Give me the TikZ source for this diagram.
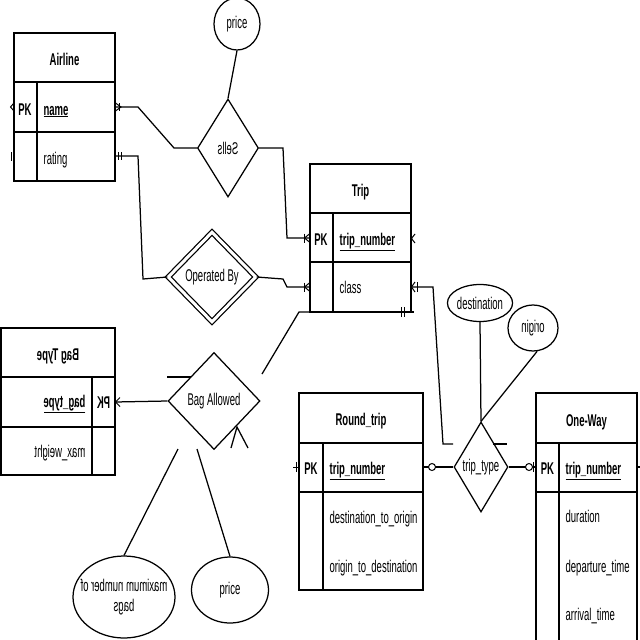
\documentclass[tikz,border=0pt]{standalone}
\usepackage{fontspec}
\usepackage{graphicx}
\setmainfont{Liberation Sans}[FakeStretch=0.56]
\usetikzlibrary{shapes.geometric,calc}
\begin{document}
\begin{tikzpicture}[x=1pt,y=-1pt,line width=1.25pt,
  txt/.style={inner sep=0pt,anchor=base,font=\fontsize{17}{20}\selectfont},
  ttl/.style={inner sep=0pt,anchor=base,font=\fontsize{17}{20}\selectfont\bfseries},
  rel/.style={diamond,draw,inner sep=0pt,font=\fontsize{17}{20}\selectfont},
  attr/.style={ellipse,draw,inner sep=0pt,font=\fontsize{17}{20}\selectfont},
  tick/.style={line width=1pt}]
\fill[white] (0,0) rectangle (640,640);
\useasboundingbox (0,0) rectangle (640,640);

% ---------- Airline ----------
\draw (14,33) rectangle (115,181);
\draw (14,82) -- (115,82);
\draw (14,132) -- (115,132);
\draw (37,82) -- (37,181);
\node[ttl] (airT) at (64.5,65) {Airline};
\node[ttl] (airPK) at (25,115) {PK};
\node[ttl,anchor=base west] (airName) at (43,115) {\underline{name}};
\node[txt,anchor=base west] (airRating) at (43,164) {rating};
\coordinate (airNameR) at (115,107);
\coordinate (airRatR) at (115,156);
\draw[tick] (14,103) -- (10.5,107) -- (14,111);
\draw[tick] (11,152) -- (11,161);

% ---------- Trip ----------
\draw (310,164) rectangle (411,312);
\draw (310,213) -- (411,213);
\draw (310,262) -- (411,262);
\draw (333,213) -- (333,312);
\node[ttl] (tripT) at (360.5,196) {Trip};
\node[ttl] (tripPK) at (321,245) {PK};
\node[ttl,anchor=base west] (tripNum) at (339,245) {\underline{trip\_number}};
\node[txt,anchor=base west] (tripClass) at (339,293) {class};
\coordinate (tripPKL) at (310,238);
\coordinate (tripClassL) at (310,287);
\coordinate (tripClassR) at (411,287);
\coordinate (tripBL) at (310,312);
\coordinate (tripBR) at (411,312);
\draw[tick] (415,234) -- (411.5,238.5) -- (415,243);
\draw[tick] (415,282) -- (411.5,287) -- (415,292);
\draw[tick] (417,282) -- (417,292);
\draw (tripBR) -- (414,312);
\draw[tick] (401,307) -- (401,317);
\draw[tick] (404.5,307) -- (404.5,317);

% ---------- Sells ----------
\node[rel,minimum width=61,minimum height=98] (sells) at (228,148) {\reflectbox{Sells}};
\node[attr,minimum width=46,minimum height=52] (price1) at (237,24) {price};
\draw (price1.south) -- (sells.north);
\draw (airNameR) -- (138,107) -- (174,148) -- (sells.west);
\draw[tick] (115.5,103) -- (121,107) -- (115.5,111);
\draw[tick] (119,103) -- (119,111);
\draw (sells.east) -- (283,148) -- (287,238) -- (tripPKL);
\draw[tick] (310,233.5) -- (304.5,238) -- (310,242.5);
\draw[tick] (304.5,233.5) -- (304.5,242.5);

% ---------- Operated By ----------
\node[rel,double,double distance=3pt,minimum width=88,minimum height=90] (op) at (212,277) {Operated By};
\draw (airRatR) -- (138,156) -- (143,279) -- (op.west);
\draw[tick] (118.5,152) -- (118.5,160);
\draw[tick] (121.5,152) -- (121.5,160);
\draw (op.east) -- (283,279) -- (287,287) -- (tripClassL);
\draw[tick] (310,282.5) -- (304.5,287) -- (310,291.5);
\draw[tick] (304.5,282.5) -- (304.5,291.5);

% ---------- Bag Type (mirrored) ----------
\draw (1,328) rectangle (115,475);
\draw (1,377) -- (115,377);
\draw (1,427) -- (115,427);
\draw (92,377) -- (92,475);
\node[ttl,anchor=base] (btT) at (58,360) {\reflectbox{Bag Type}};
\node[ttl,anchor=base] (btPK) at (103.5,408) {\reflectbox{PK}};
\node[ttl,anchor=base east] (btType) at (86,407) {\reflectbox{\underline{bag\_type}}};
\node[txt,anchor=base east] (btW) at (86,457) {\reflectbox{max\_weight}};
\coordinate (btPKR) at (115,402);

% ---------- Bag Allowed ----------
\node[rel,minimum width=92,minimum height=97] (ba) at (214,401) {Bag Allowed};
\draw (btPKR) -- (ba.west);
\draw[tick] (120,397.5) -- (115.5,402) -- (120,406.5);
\draw (167,377) -- (191,377);
\coordinate (baFoot) at (237,427);
\draw (231,448) -- (baFoot) -- (248,448);
\draw (tripBL) -- (299,312) -- (262,374);
\node[attr,minimum width=102,minimum height=82] (maxb) at (124,597) {};
\node[txt,anchor=center,align=center] (maxbT) at (124,597) {\reflectbox{\begin{tabular}{@{}c@{}}maximum number of\\bags\end{tabular}}};
\node[attr,minimum width=77,minimum height=66] (price2) at (230,590) {price};
\draw (178,449) -- (maxb.north);
\draw (197,449) -- (price2.north);

% ---------- Round_trip ----------
\draw (299,393) rectangle (423,590);
\draw (299,443) -- (423,443);
\draw (299,492) -- (423,492);
\draw (323,443) -- (323,590);
\node[ttl] (rtT) at (361,425) {Round\_trip};
\node[ttl] (rtPK) at (311,474) {PK};
\node[ttl,anchor=base west] (rtNum) at (329,474) {\underline{trip\_number}};
\node[txt,anchor=base west] (rtD) at (329,523) {destination\_to\_origin};
\node[txt,anchor=base west] (rtO) at (329,572) {origin\_to\_destination};
\coordinate (rtPKR) at (423,467);
\coordinate (rtPKL) at (299,467);
\draw[tick] (rtPKL) -- (293,467);
\draw[tick] (296,462) -- (296,472);

% ---------- trip_type ----------
\node[rel,minimum width=54,minimum height=90] (tt) at (481,467) {trip\_type};
\node[attr,minimum width=62,minimum height=37] (dest) at (480,303) {destination};
\node[attr,minimum width=50,minimum height=46] (orig) at (533,328) {\reflectbox{origin}};
\draw (dest.south) -- (tt.north);
\draw (orig.-80) -- (tt.north);
\draw (tripClassR) -- (433,287) -- (443,444) -- (453,444);
\draw (493,444) -- (507,444);
\draw (rtPKR) -- (tt.west);
\filldraw[tick,fill=white] (432,467) circle (3.5);

% ---------- One-Way ----------
\draw (536,641) -- (536,393) -- (637,393) -- (637,641);
\draw (536,443) -- (637,443);
\draw (536,492) -- (637,492);
\draw (559,443) -- (559,641);
\node[ttl] (owT) at (586.5,426) {One-Way};
\node[ttl] (owPK) at (547.5,474) {PK};
\node[ttl,anchor=base west] (owNum) at (565,474) {\underline{trip\_number}};
\node[txt,anchor=base west] (owD) at (565,522) {duration};
\node[txt,anchor=base west] (owDep) at (565,572) {departure\_time};
\node[txt,anchor=base west] (owArr) at (565,620) {arrival\_time};
\coordinate (owPKL) at (536,467);
\coordinate (owPKR) at (637,467);
\draw (tt.east) -- (owPKL);
\filldraw[tick,fill=white] (529,467) circle (3.5);
\draw[tick] (533,462) -- (533,472);
\draw (owPKR) -- (641,467);
\end{tikzpicture}
\end{document}
